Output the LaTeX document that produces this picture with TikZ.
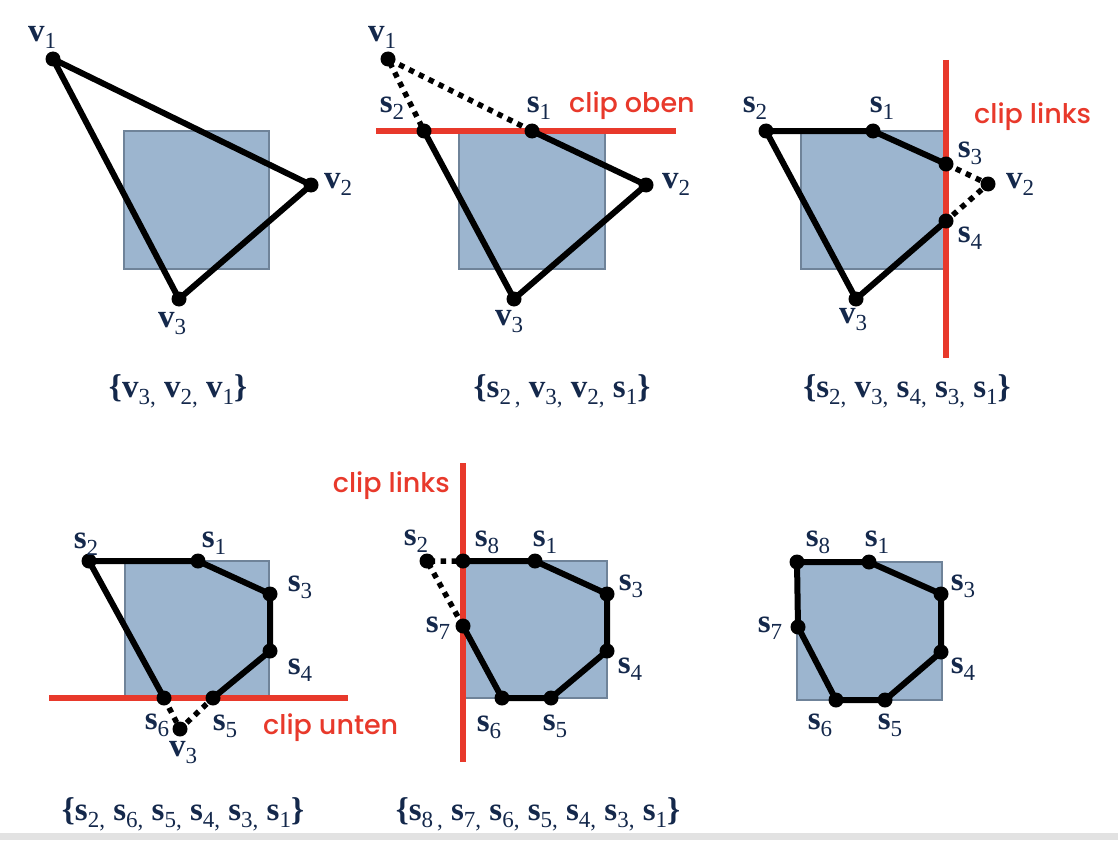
\documentclass[tikz,border=0pt]{standalone}
\usepackage{fontspec}
\setmainfont{Liberation Serif}
\IfFontExistsTF{Poppins Medium}{\newfontfamily\clipfont{Poppins Medium}}{\newfontfamily\clipfont{Poppins}}
\definecolor{navy}{HTML}{14284B}
\definecolor{boxfill}{HTML}{9CB5CF}
\definecolor{boxedge}{HTML}{6F8399}
\definecolor{clipred}{HTML}{E8392B}
\definecolor{stripgray}{HTML}{E2E2E2}
\newcommand\lb[2]{\textbf{#1}\raisebox{-7pt}{\fontsize{23}{23}\selectfont #2}}
\newcommand\lbo{\textbf{\{}}
\newcommand\lbc{\textbf{\}}}
\begin{document}
\begin{tikzpicture}[x=1pt,y=-1pt,
  box/.style={fill=boxfill,draw=boxedge,line width=2.5pt},
  edge/.style={line width=6pt,line join=round,line cap=round},
  dotedge/.style={line width=5.5pt,dash pattern=on 5.5pt off 5.5pt},
  pt/.style={circle,fill=black,inner sep=0pt,minimum size=15pt},
  clipline/.style={draw=clipred,line width=5.5pt},
  cliptext/.style={text=clipred,font=\clipfont\fontsize{27}{27}\selectfont,inner sep=0pt},
  lbl/.style={text=navy,font=\fontsize{33}{33}\selectfont,inner sep=0pt},
]
\useasboundingbox (0,0) rectangle (1118,840);
\fill[stripgray] (0,833) rectangle (1118,840);

% ---------------- Panel 1 ----------------
\draw[box] (124,131) rectangle (269,269);
\coordinate (Av1) at (53,59);
\coordinate (Av2) at (311,185);
\coordinate (Av3) at (179,299);
\draw[edge] (Av1) -- (Av2) -- (Av3) -- cycle;
\node[pt] (Av1d) at (Av1) {};
\node[pt] (Av2d) at (Av2) {};
\node[pt] (Av3d) at (Av3) {};
\node[lbl] (Av1l) at (42,37) {\lb{v}{1}};
\node[lbl] (Av2l) at (338,184) {\lb{v}{2}};
\node[lbl] (Av3l) at (172,324) {\lb{v}{3}};
\node[lbl] (Acap) at (178,391) {\lbo\lb{v}{3,} \lb{v}{2,} \lb{v}{1}\lbc};

% ---------------- Panel 2 ----------------
\draw[box] (459,131) rectangle (605,269);
\coordinate (Bc1) at (376,131);
\coordinate (Bc2) at (676,131);
\draw[clipline] (Bc1) -- (Bc2);
\coordinate (Bv1) at (388,59);
\coordinate (Bv2) at (646,185);
\coordinate (Bv3) at (514,299);
\coordinate (Bs1) at (532,131);
\coordinate (Bs2) at (424,131);
\draw[edge] (Bs2) -- (Bv3) -- (Bv2) -- (Bs1);
\draw[dotedge] (Bs1) -- (Bv1) -- (Bs2);
\foreach \n in {Bv1,Bv2,Bv3,Bs1,Bs2} \node[pt] (\n d) at (\n) {};
\node[lbl] (Bv1l) at (382,37) {\lb{v}{1}};
\node[lbl] (Bs2l) at (392,108) {\lb{s}{2}};
\node[lbl] (Bs1l) at (539,108) {\lb{s}{1}};
\node[lbl] (Bv2l) at (676,184) {\lb{v}{2}};
\node[lbl] (Bv3l) at (509,322) {\lb{v}{3}};
\node[cliptext,anchor=west] (Bct) at (569,106) {clip oben};
\node[lbl] (Bcap) at (562,391) {\lbo\lb{s}{2\,,} \lb{v}{3,} \lb{v}{2,} \lb{s}{1}\lbc};

% ---------------- Panel 3 ----------------
\draw[box] (801,131) rectangle (946,269);
\coordinate (Cc1) at (946,60);
\coordinate (Cc2) at (946,358);
\draw[clipline] (Cc1) -- (Cc2);
\coordinate (Cs2) at (766,131);
\coordinate (Cs1) at (873,131);
\coordinate (Cs3) at (946,164);
\coordinate (Cv2) at (988,184);
\coordinate (Cs4) at (946,221);
\coordinate (Cv3) at (856,299);
\draw[edge] (Cs4) -- (Cv3) -- (Cs2) -- (Cs1) -- (Cs3);
\draw[dotedge] (Cs3) -- (Cv2) -- (Cs4);
\foreach \n in {Cs1,Cs2,Cs3,Cs4,Cv2,Cv3} \node[pt] (\n d) at (\n) {};
\node[lbl] (Cs2l) at (755,108) {\lb{s}{2}};
\node[lbl] (Cs1l) at (882,108) {\lb{s}{1}};
\node[lbl] (Cs3l) at (970,153) {\lb{s}{3}};
\node[lbl] (Cv2l) at (1020,184) {\lb{v}{2}};
\node[lbl] (Cs4l) at (970,238) {\lb{s}{4}};
\node[lbl] (Cv3l) at (853,320) {\lb{v}{3}};
\node[cliptext,anchor=west] (Cct) at (974,117) {clip links};
\node[lbl] (Ccap) at (907,391) {\lbo\lb{s}{2,} \lb{v}{3,} \lb{s}{4,} \lb{s}{3,} \lb{s}{1}\lbc};

% ---------------- Panel 4 ----------------
\draw[box] (125,561) rectangle (269,698);
\coordinate (Dc1) at (49,698);
\coordinate (Dc2) at (348,698);
\draw[clipline] (Dc1) -- (Dc2);
\coordinate (Ds2) at (89,561);
\coordinate (Ds1) at (198,561);
\coordinate (Ds3) at (270,594);
\coordinate (Ds4) at (270,651);
\coordinate (Ds5) at (213,698);
\coordinate (Ds6) at (164,698);
\coordinate (Dv3) at (180,729);
\draw[edge] (Ds5) -- (Ds4) -- (Ds3) -- (Ds1) -- (Ds2) -- (Ds6);
\draw[dotedge] (Ds6) -- (Dv3) -- (Ds5);
\foreach \n in {Ds1,Ds2,Ds3,Ds4,Ds5,Ds6,Dv3} \node[pt] (\n d) at (\n) {};
\node[lbl] (Ds2l) at (86,544) {\lb{s}{2}};
\node[lbl] (Ds1l) at (214,543) {\lb{s}{1}};
\node[lbl] (Ds3l) at (300,587) {\lb{s}{3}};
\node[lbl] (Ds4l) at (300,670) {\lb{s}{4}};
\node[lbl] (Ds6l) at (157,725) {\lb{s}{6}};
\node[lbl] (Ds5l) at (225,726) {\lb{s}{5}};
\node[lbl] (Dv3l) at (183,753) {\lb{v}{3}};
\node[cliptext,anchor=west] (Dct) at (263,728) {clip unten};
\node[lbl] (Dcap) at (183,814) {\lbo\lb{s}{2,} \lb{s}{6,} \lb{s}{5,} \lb{s}{4,} \lb{s}{3,} \lb{s}{1}\lbc};

% ---------------- Panel 5 ----------------
\draw[box] (463,561) rectangle (607,698);
\coordinate (Ec1) at (463,463);
\coordinate (Ec2) at (463,762);
\draw[clipline] (Ec1) -- (Ec2);
\coordinate (Es2) at (427,561);
\coordinate (Es8) at (463,561);
\coordinate (Es1) at (535,561);
\coordinate (Es3) at (607,594);
\coordinate (Es4) at (607,651);
\coordinate (Es5) at (551,698);
\coordinate (Es6) at (502,698);
\coordinate (Es7) at (463,626);
\draw[edge] (Es8) -- (Es1) -- (Es3) -- (Es4) -- (Es5) -- (Es6) -- (Es7);
\draw[dotedge] (Es7) -- (Es2) -- (Es8);
\foreach \n in {Es1,Es2,Es3,Es4,Es5,Es6,Es7,Es8} \node[pt] (\n d) at (\n) {};
\node[lbl] (Es2l) at (416,541) {\lb{s}{2}};
\node[lbl] (Es8l) at (487,542) {\lb{s}{8}};
\node[lbl] (Es1l) at (545,542) {\lb{s}{1}};
\node[lbl] (Es3l) at (631,586) {\lb{s}{3}};
\node[lbl] (Es4l) at (630,669) {\lb{s}{4}};
\node[lbl] (Es7l) at (438,628) {\lb{s}{7}};
\node[lbl] (Es6l) at (489,727) {\lb{s}{6}};
\node[lbl] (Es5l) at (555,726) {\lb{s}{5}};
\node[cliptext,anchor=east] (Ect) at (450,486) {clip links};
\node[lbl] (Ecap) at (538,814) {\lbo\lb{s}{8\,,} \lb{s}{7,} \lb{s}{6,} \lb{s}{5,} \lb{s}{4,} \lb{s}{3,} \lb{s}{1}\lbc};

% ---------------- Panel 6 ----------------
\draw[box] (797,562) rectangle (942,700);
\coordinate (Fs8) at (797,562);
\coordinate (Fs1) at (869,562);
\coordinate (Fs3) at (941,594);
\coordinate (Fs4) at (941,652);
\coordinate (Fs5) at (885,700);
\coordinate (Fs6) at (836,700);
\coordinate (Fs7) at (798,627);
\draw[edge] (Fs8) -- (Fs1) -- (Fs3) -- (Fs4) -- (Fs5) -- (Fs6) -- (Fs7) -- cycle;
\foreach \n in {Fs1,Fs3,Fs4,Fs5,Fs6,Fs7,Fs8} \node[pt] (\n d) at (\n) {};
\node[lbl] (Fs8l) at (818,542) {\lb{s}{8}};
\node[lbl] (Fs1l) at (877,542) {\lb{s}{1}};
\node[lbl] (Fs3l) at (963,586) {\lb{s}{3}};
\node[lbl] (Fs4l) at (963,669) {\lb{s}{4}};
\node[lbl] (Fs7l) at (770,628) {\lb{s}{7}};
\node[lbl] (Fs6l) at (820,725) {\lb{s}{6}};
\node[lbl] (Fs5l) at (890,725) {\lb{s}{5}};
\end{tikzpicture}
\end{document}
